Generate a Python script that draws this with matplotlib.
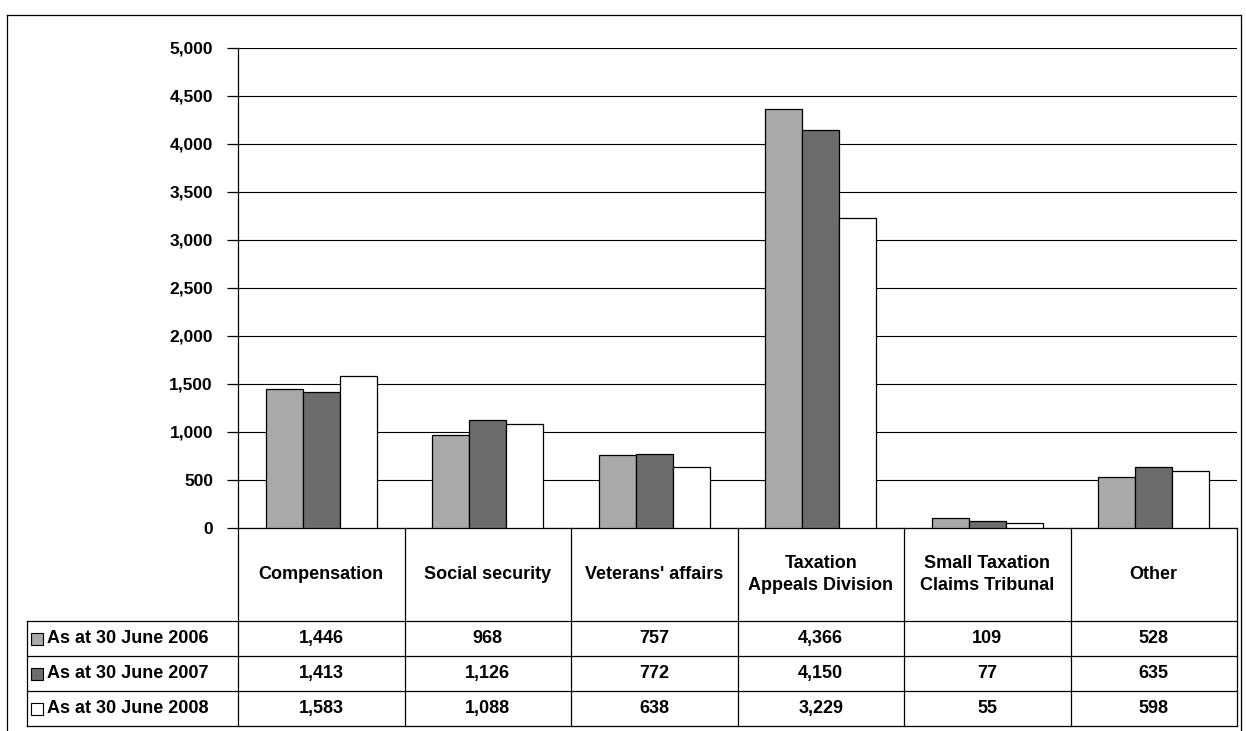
import numpy as np
import matplotlib.pyplot as plt
from matplotlib.lines import Line2D
from matplotlib.patches import Rectangle

categories = ['Compensation', 'Social security', "Veterans' affairs",
              'Taxation\nAppeals Division', 'Small Taxation\nClaims Tribunal', 'Other']
series = ['As at 30 June 2006', 'As at 30 June 2007', 'As at 30 June 2008']
v2006 = [1446, 968, 757, 4366, 109, 528]
v2007 = [1413, 1126, 772, 4150, 77, 635]
v2008 = [1583, 1088, 638, 3229, 55, 598]
values = [v2006, v2007, v2008]
colors = ['#a9a9a9', '#6c6c6c', '#ffffff']

W, H = 1246, 731
plt.rcParams.update({'font.family': ['Liberation Sans', 'DejaVu Sans'],
                     'font.size': 12.5, 'font.weight': 'bold'})
fig = plt.figure(figsize=(W / 100, H / 100), dpi=100)

def fx(x):
    return x / W

def fy(y):
    return 1 - y / H

def line(x0, y0, x1, y1, lw=0.9):
    fig.add_artist(Line2D([fx(x0), fx(x1)], [fy(y0), fy(y1)], color='black', lw=lw))

# plot area in pixel terms
left, right, top, bottom = 238, 1237, 48, 528
ax = fig.add_axes([fx(left), fy(bottom), fx(right - left), (bottom - top) / H])

x = np.arange(len(categories))
w = 0.222
for i, (vals, c) in enumerate(zip(values, colors)):
    ax.bar(x + (i - 1) * w, vals, w, color=c, edgecolor='black', linewidth=0.9, zorder=3)

ax.set_xlim(-0.5, len(categories) - 0.5)
ax.set_ylim(0, 5000)
ax.set_yticks(np.arange(0, 5001, 500))
ax.set_yticklabels([f'{v:,}' for v in range(0, 5001, 500)])
ax.yaxis.grid(True, color='black', linewidth=0.8, zorder=0)
ax.set_xticks([])
for s in ['top', 'right']:
    ax.spines[s].set_visible(False)
ax.spines['left'].set_linewidth(0.9)
ax.spines['bottom'].set_linewidth(0.9)
ax.tick_params(axis='y', length=8, width=0.9, pad=10)

# data table
row_y = [528, 621, 656, 691, 726]
col_x = [left + (right - left) * k / len(categories) for k in range(len(categories) + 1)]
tab_left = 27
for cx in col_x:
    line(cx, 528, cx, row_y[-1])
for ry in row_y[1:]:
    line(tab_left, ry, col_x[-1], ry)
line(tab_left, row_y[1], tab_left, row_y[-1])

for k, cat in enumerate(categories):
    fig.text(fx((col_x[k] + col_x[k + 1]) / 2), fy((row_y[0] + row_y[1]) / 2), cat,
             ha='center', va='center', linespacing=1.35, fontsize=13)

for r, (name, vals, c) in enumerate(zip(series, values, colors)):
    yc = (row_y[r + 1] + row_y[r + 2]) / 2
    fig.add_artist(Rectangle((fx(31), fy(yc + 6)), fx(12), 12 / H, facecolor=c,
                             edgecolor='black', linewidth=0.8))
    fig.text(fx(47), fy(yc), name, ha='left', va='center', fontsize=13)
    for k, v in enumerate(vals):
        fig.text(fx((col_x[k] + col_x[k + 1]) / 2), fy(yc), f'{v:,}',
                 ha='center', va='center', fontsize=13)

# outer border
line(7, 15, 1241, 15)
line(7, 15, 7, 731)
line(1241, 15, 1241, 731)

plt.savefig('out.png', dpi=100)
